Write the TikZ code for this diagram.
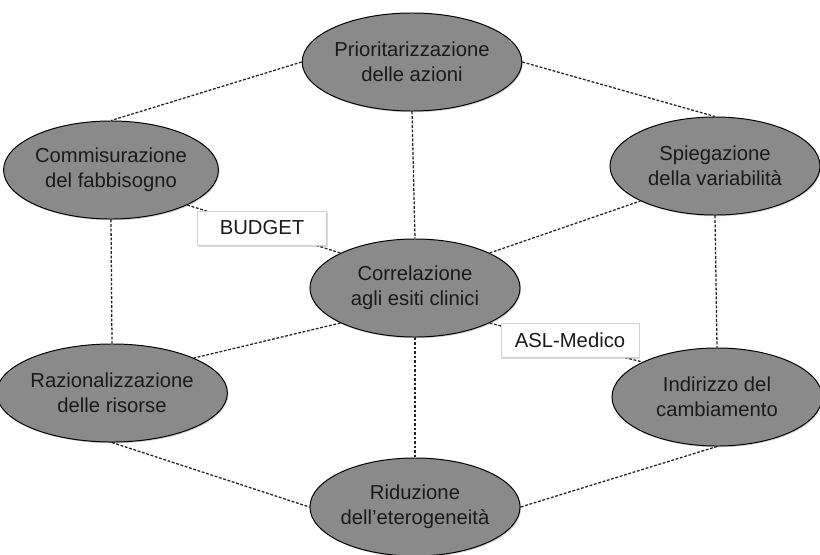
\documentclass[tikz,border=0pt]{standalone}
\usepackage{fontspec}
\setmainfont{Liberation Sans}
\usepackage{tikz}
\usetikzlibrary{shapes.geometric}
\usetikzlibrary{shadows}

\definecolor{grigioellisse}{HTML}{8A8A8A}
\definecolor{grigiolinea}{HTML}{222222}
\definecolor{testoscuro}{HTML}{1A1A1A}

\begin{document}
\begin{tikzpicture}[x=0.025cm, y=-0.025cm,
    obiettivo/.style={ellipse, draw=black, line width=0.7pt, fill=grigioellisse,
        minimum width=5.25cm, minimum height=2.45cm, inner sep=0pt, align=center,
        text=testoscuro, font=\fontsize{14.4}{17.8}\selectfont,
        drop shadow={opacity=0.35, shadow xshift=0.7pt, shadow yshift=-0.9pt}},
    etichetta/.style={rectangle, draw=gray!35, line width=0.4pt, fill=white,
        minimum height=0.84cm, inner sep=0pt, text=testoscuro,
        font=\fontsize{14.4}{17}\selectfont,
        drop shadow={opacity=0.3, shadow xshift=1pt, shadow yshift=-1.2pt}},
    legame/.style={draw=grigiolinea, line width=0.9pt, dash pattern=on 2pt off 1.2pt}]

    % Cornice
    \useasboundingbox (0,0) rectangle (820,554);

    % Ellissi
    \node[obiettivo] (prio) at (412,62)  {Prioritarizzazione\\delle azioni};
    \node[obiettivo] (comm) at (111,170) {Commisurazione\\del fabbisogno};
    \node[obiettivo] (spie) at (715,166) {Spiegazione\\della variabilità};
    \node[obiettivo] (corr) at (415,288) {Correlazione\\agli esiti clinici};
    \node[obiettivo] (razi) at (112,393) {Razionalizzazione\\delle risorse};
    \node[obiettivo] (indi) at (717,397) {Indirizzo del\\cambiamento};
    \node[obiettivo] (ridu) at (415,507) {Riduzione\\dell’eterogeneità};

    % Esagono esterno
    \draw[legame] (prio.west) -- (comm.north);
    \draw[legame] (prio.east) -- (spie.north);
    \draw[legame] (comm.south) -- (razi.north);
    \draw[legame] (spie.south) -- (indi.north);
    \draw[legame] (razi.south) -- (ridu.west);
    \draw[legame] (indi.south) -- (ridu.east);

    % Raggi verso il centro
    \draw[legame] (prio.south) -- (corr.north);
    \draw[legame] (corr.south) -- (ridu.north);
    \draw[legame] (corr.north east) -- (spie.south west);
    \draw[legame] (corr.south west) -- (razi.north east);
    \draw[legame] (comm.south east) -- (corr.north west);
    \draw[legame] (corr.south east) -- (indi.north west);

    % Etichette sui legami
    \node[etichetta, minimum width=3.23cm] (budget) at (262,228) {BUDGET};
    \node[etichetta, minimum width=3.45cm] (asl) at (570,340) {ASL-Medico};

\end{tikzpicture}
\end{document}
